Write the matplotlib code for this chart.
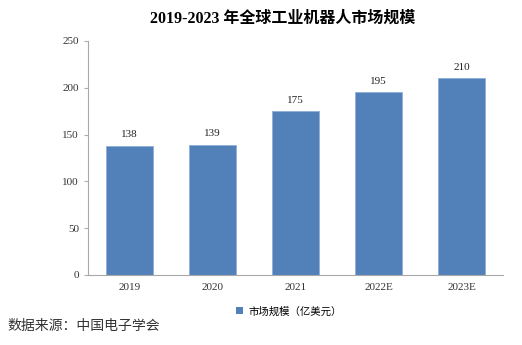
import matplotlib.pyplot as plt
from matplotlib.patches import Patch

plt.rcParams['font.family'] = ['Liberation Serif', 'Noto Sans CJK SC']

years = ['2019', '2020', '2021', '2022E', '2023E']
values = [138, 139, 175, 195, 210]
yticks = [0, 50, 100, 150, 200, 250]

fig = plt.figure(figsize=(5.22, 3.45), dpi=100)
ax = fig.add_axes([0.1686, 0.2029, 0.795, 0.6783])

bars = ax.bar(range(len(years)), values, width=0.57, color='#5181b8',
              edgecolor='#8db0d8', linewidth=0.6)
for b, v in zip(bars, values):
    ax.text(b.get_x() + b.get_width() / 2, v + 7, str(v), ha='center', va='bottom',
            fontsize=8, color='#222222')

ax.set_xlim(-0.5, len(years) - 0.5)
ax.set_ylim(0, 250)
ax.set_yticks(yticks)
ax.set_xticks(range(len(years)))
ax.set_xticklabels(years)
ax.tick_params(axis='y', labelsize=8, colors='#333333', length=3, color='#b0b0b0', width=0.8)
ax.tick_params(axis='x', labelsize=8, colors='#333333', length=0, pad=6)
for s in ['top', 'right']:
    ax.spines[s].set_visible(False)
ax.spines['left'].set_color('#a8a8a8')
ax.spines['bottom'].set_color('#a8a8a8')

fig.text(0.541, 0.947, '2019-2023 年全球工业机器人市场规模', ha='center', va='center',
         fontsize=11.5, fontweight='bold')

fig.legend(handles=[Patch(facecolor='#5181b8', label='市场规模（亿美元）')],
           loc='center', bbox_to_anchor=(0.553, 0.098), frameon=False,
           prop={'family': ['Noto Sans CJK SC'], 'size': 7.5},
           handlelength=0.7, handleheight=0.7, handletextpad=0.5)

fig.text(0.015, 0.055, '数据来源：中国电子学会', ha='left', va='center',
         fontsize=10, family=['Noto Sans CJK SC'], color='#333333')

fig.savefig('out.png', dpi=100)
